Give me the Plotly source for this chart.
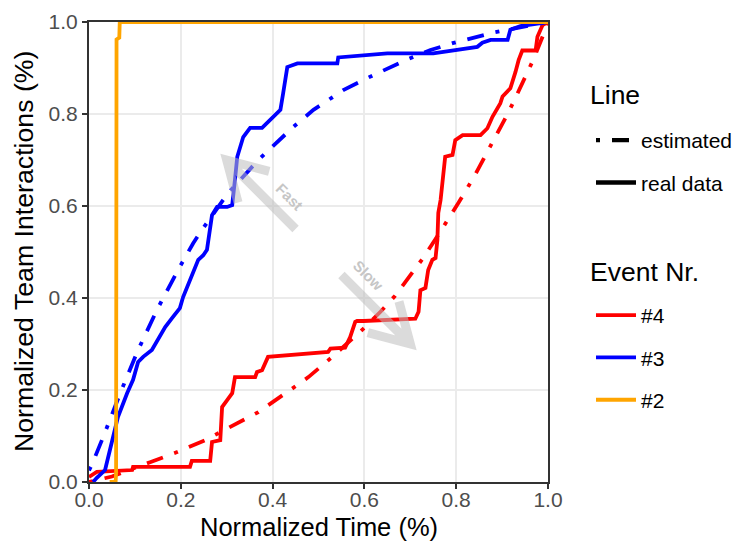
import math
import plotly.graph_objects as go

# ---------------- data ----------------
x_ticks = [0.0, 0.2, 0.4, 0.6, 0.8, 1.0]
tick_labels = ["0.0", "0.2", "0.4", "0.6", "0.8", "1.0"]

event_names = ["#4", "#3", "#2"]
event_colors = ["#FF0000", "#0000FF", "#FFA500"]
line_types = ["estimated", "real data"]

# Event #4 (red)
e4_real_x = [0.0, 0.017, 0.094, 0.096, 0.220, 0.224, 0.264, 0.268, 0.286, 0.290, 0.301, 0.312,
             0.318, 0.362, 0.366, 0.377, 0.390, 0.482, 0.521, 0.526, 0.558, 0.569, 0.580, 0.584,
             0.598, 0.711, 0.718, 0.722, 0.733, 0.739, 0.748, 0.755, 0.759, 0.761, 0.766, 0.776,
             0.792, 0.798, 0.814, 0.853, 0.868, 0.879, 0.896, 0.901, 0.918, 0.929, 0.936, 0.944,
             0.973, 0.977, 0.984, 0.988, 1.0]
e4_real_y = [0.011, 0.022, 0.026, 0.033, 0.033, 0.046, 0.046, 0.087, 0.091, 0.163, 0.178, 0.193,
             0.228, 0.228, 0.239, 0.243, 0.272, 0.280, 0.283, 0.290, 0.292, 0.315, 0.348, 0.350,
             0.350, 0.355, 0.370, 0.417, 0.422, 0.461, 0.483, 0.487, 0.526, 0.585, 0.613, 0.707,
             0.711, 0.743, 0.754, 0.754, 0.769, 0.794, 0.823, 0.838, 0.856, 0.891, 0.917, 0.938,
             0.938, 0.968, 0.986, 0.993, 1.0]
e4_est_x = [0.0, 0.05, 0.133, 0.192, 0.253, 0.314, 0.369, 0.454, 0.478, 0.504, 0.530, 0.602,
            0.635, 0.667, 0.694, 0.728, 0.755, 0.787, 0.805, 0.838, 0.881, 0.912, 0.929, 0.968,
            0.995, 1.0]
e4_est_y = [0.0, 0.012, 0.043, 0.065, 0.091, 0.124, 0.152, 0.211, 0.228, 0.250, 0.272, 0.337,
            0.370, 0.405, 0.440, 0.487, 0.528, 0.578, 0.607, 0.662, 0.740, 0.800, 0.835, 0.918,
            0.985, 1.0]

# Event #3 (blue)
e3_real_x = [0.009, 0.017, 0.035, 0.046, 0.052, 0.063, 0.083, 0.096, 0.107, 0.118, 0.137, 0.150,
             0.166, 0.183, 0.198, 0.205, 0.220, 0.238, 0.249, 0.257, 0.268, 0.279, 0.301, 0.312,
             0.318, 0.323, 0.336, 0.351, 0.377, 0.395, 0.417, 0.423, 0.432, 0.454, 0.541, 0.543,
             0.650, 0.750, 0.809, 0.846, 0.857, 0.875, 0.912, 0.918, 0.940, 0.984, 1.0]
e3_real_y = [0.0, 0.009, 0.026, 0.070, 0.091, 0.141, 0.193, 0.222, 0.261, 0.272, 0.287, 0.309,
             0.337, 0.359, 0.378, 0.402, 0.439, 0.483, 0.493, 0.505, 0.580, 0.598, 0.598, 0.602,
             0.657, 0.707, 0.750, 0.770, 0.770, 0.787, 0.809, 0.845, 0.902, 0.910, 0.910, 0.923,
             0.932, 0.932, 0.940, 0.946, 0.955, 0.961, 0.961, 0.983, 0.991, 0.998, 1.0]
e3_est_x = [0.0, 0.006, 0.031, 0.068, 0.107, 0.148, 0.194, 0.227, 0.246, 0.303, 0.369, 0.443,
            0.489, 0.554, 0.606, 0.696, 0.744, 0.792, 0.885, 1.0]
e3_est_y = [0.025, 0.037, 0.098, 0.193, 0.287, 0.374, 0.461, 0.519, 0.548, 0.628, 0.700, 0.770,
            0.809, 0.852, 0.878, 0.920, 0.939, 0.954, 0.978, 1.0]

# Event #2 (orange)
e2_real_x = [0.045, 0.058, 0.059, 0.060, 0.066, 0.067, 1.0]
e2_real_y = [0.0, 0.0, 0.02, 0.962, 0.966, 1.0, 1.0]

# annotation arrows (tail -> tip) and labels
arrow_labels = ["Fast", "Slow"]
arrow_tail = [(0.45, 0.55), (0.55, 0.45)]
arrow_tip = [(0.30, 0.70), (0.70, 0.30)]
arrow_label_pos = [(0.436, 0.62), (0.609, 0.45)]

x_title = "Normalized Time (%)"
y_title = "Normalized Team Interactions (%)"

# ---------------- figure ----------------
W, H = 737, 542
ML, MR, MT, MB = 89, 189, 22, 60
PW, PH = W - ML - MR, H - MT - MB

FONT = "Liberation Sans, Arial, sans-serif"
DASH = "4px,12px,17px,12px"
LW = 3.8


def px_x(p):
    return (p - ML) / PW


def px_y(p):
    return (H - MB - p) / PH


fig = go.Figure()

series = [
    (e4_est_x, e4_est_y, e4_real_x, e4_real_y),
    (e3_est_x, e3_est_y, e3_real_x, e3_real_y),
    (None, None, e2_real_x, e2_real_y),
]
for (ex, ey, rx, ry), name, col in zip(series, event_names, event_colors):
    if ex is not None:
        fig.add_trace(go.Scatter(x=ex, y=ey, mode="lines", showlegend=False,
                                 line=dict(color=col, width=LW, dash=DASH),
                                 hoverinfo="skip"))
    fig.add_trace(go.Scatter(x=rx, y=ry, mode="lines", name=name, legend="legend2",
                             legendgroup="ev" + name,
                             line=dict(color=col, width=LW)))

# Line-type legend (dummy traces)
for lt, dash in zip(line_types, [DASH, "solid"]):
    fig.add_trace(go.Scatter(x=[None], y=[None], mode="lines", name=lt, legend="legend",
                             legendgroup="lt" + lt,
                             line=dict(color="black", width=LW + 0.6, dash=dash)))

# arrows as shapes
shapes = []
ARM = 44.0
for (tx, ty), (hx, hy) in zip(arrow_tail, arrow_tip):
    dxp = (tx - hx) * PW
    dyp = (ty - hy) * PH
    L = math.hypot(dxp, dyp)
    ux, uy = dxp / L, dyp / L
    arms = []
    for ang in (math.radians(30), math.radians(-30)):
        rx = ux * math.cos(ang) - uy * math.sin(ang)
        ry = ux * math.sin(ang) + uy * math.cos(ang)
        arms.append((hx + rx * ARM / PW, hy + ry * ARM / PH))
    path = (f"M {tx},{ty} L {hx},{hy} M {arms[0][0]},{arms[0][1]} L {hx},{hy} "
            f"L {arms[1][0]},{arms[1][1]}")
    shapes.append(dict(type="path", path=path, xref="x", yref="y", layer="above",
                       line=dict(color="#BEBEBE", width=9), opacity=0.55))

annotations = []
for lab, (lx, ly) in zip(arrow_labels, arrow_label_pos):
    annotations.append(dict(x=lx, y=ly, xref="x", yref="y", text=lab, showarrow=False,
                            textangle=45,
                            font=dict(family=FONT, size=15, color="#C6C6C6", weight="bold")))

# legend titles
annotations.append(dict(x=px_x(588), y=px_y(95), xref="paper", yref="paper",
                        text="Line", showarrow=False, xanchor="left", yanchor="middle",
                        font=dict(family=FONT, size=26.5, color="black")))
annotations.append(dict(x=px_x(588), y=px_y(272), xref="paper", yref="paper",
                        text="Event Nr.", showarrow=False, xanchor="left", yanchor="middle",
                        font=dict(family=FONT, size=26.5, color="black")))

# axis titles
annotations.append(dict(x=0.5, y=px_y(541.5), xref="paper", yref="paper", text=x_title,
                        showarrow=False, xanchor="center", yanchor="bottom", borderpad=0,
                        font=dict(family=FONT, size=25.5, color="black")))
annotations.append(dict(x=px_x(24), y=0.5, xref="paper", yref="paper", text=y_title,
                        showarrow=False, xanchor="center", yanchor="middle", textangle=-90,
                        font=dict(family=FONT, size=26.7, color="black")))

axis_common = dict(range=[0, 1], tickvals=x_ticks, ticktext=tick_labels,
                   ticks="outside", ticklen=5, tickwidth=2, tickcolor="#333333",
                   showline=True, mirror=True, linecolor="#333333", linewidth=2,
                   showgrid=True, gridcolor="#EBEBEB", gridwidth=1.8, zeroline=False,
                   automargin=False,
                   tickfont=dict(family=FONT, size=21, color="#4D4D4D"))

leg_common = dict(font=dict(family=FONT, size=21, color="black"), bgcolor="rgba(0,0,0,0)",
                  traceorder="grouped", tracegroupgap=12, itemwidth=40,
                  xanchor="left", yanchor="top")

fig.update_layout(
    width=W, height=H,
    margin=dict(l=ML, r=MR, t=MT, b=MB, autoexpand=False),
    paper_bgcolor="white", plot_bgcolor="white",
    xaxis=dict(**axis_common, ticklabelstandoff=-7),
    yaxis=dict(**axis_common),
    legend=dict(**leg_common, x=px_x(591), y=px_y(120)),
    legend2=dict(**leg_common, x=px_x(591), y=px_y(295)),
    shapes=shapes,
    annotations=annotations,
    showlegend=True,
)

fig.write_html("out.html")
